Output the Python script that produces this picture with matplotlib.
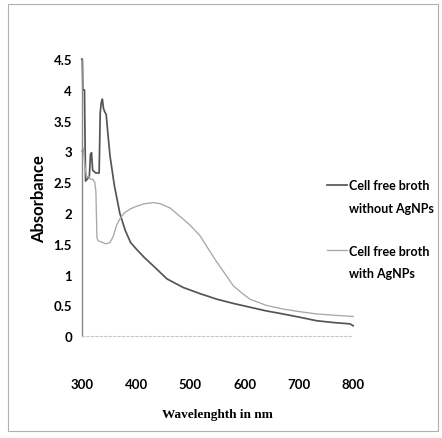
import matplotlib
matplotlib.use('Agg')
from matplotlib import pyplot as plt
from matplotlib.patches import Rectangle
from matplotlib.lines import Line2D

# UV-vis spectra
wl_without = [300, 301, 302, 305, 306, 307, 310, 314, 316, 318, 320, 322, 326, 330, 332, 334,
              336, 338, 340, 342, 345, 348, 352, 360, 370, 380, 390, 401, 415, 432, 457, 487,
              518, 549, 580, 610, 640, 671, 700, 733, 765, 794, 800]
abs_without = [4.5, 4.5, 4.0, 4.0, 3.2, 2.52, 2.55, 2.6, 2.95, 2.98, 2.7, 2.68, 2.65, 2.65, 2.65, 3.63,
               3.8, 3.85, 3.7, 3.65, 3.6, 3.3, 2.93, 2.45, 2.0, 1.72, 1.52, 1.41, 1.28, 1.14, 0.93, 0.79,
               0.69, 0.60, 0.53, 0.47, 0.41, 0.36, 0.31, 0.25, 0.22, 0.20, 0.17]

wl_with = [300, 303, 306, 309, 312, 316, 320, 324, 326, 328, 330, 336, 344, 352, 358, 364, 370,
           378, 390, 401, 415, 432, 445, 463, 487, 500, 518, 533, 549, 565, 579, 595, 610, 640,
           671, 700, 733, 765, 800]
abs_with = [3.0, 3.05, 2.75, 2.58, 2.6, 2.55, 2.55, 2.5, 2.35, 1.6, 1.55, 1.53, 1.5, 1.52, 1.62, 1.8, 1.9,
            2.0, 2.07, 2.11, 2.15, 2.17, 2.15, 2.08, 1.9, 1.8, 1.63, 1.42, 1.2, 1.0, 0.82, 0.7, 0.6, 0.5,
            0.44, 0.4, 0.36, 0.34, 0.32]

x_ticks = [300, 400, 500, 600, 700, 800]
y_ticks = [0, 0.5, 1, 1.5, 2, 2.5, 3, 3.5, 4, 4.5]
y_tick_labels = ['0', '0.5', '1', '1.5', '2', '2.5', '3', '3.5', '4', '4.5']

sans = ['Lato', 'DejaVu Sans']
serif = ['Liberation Serif', 'DejaVu Serif']

fig = plt.figure(figsize=(4.42, 4.39), dpi=100)
ax = fig.add_axes([0.185, 0.232, 0.614, 0.631])

l1, = ax.plot(wl_without, abs_without, color='#555555', lw=1.25, clip_on=False)
l2, = ax.plot(wl_with, abs_with, color='#a8a8a8', lw=0.95, clip_on=False)

ax.set_xlim(300, 800)
ax.set_ylim(0, 4.5)
ax.set_xticks(x_ticks)
ax.set_xticklabels([str(t) for t in x_ticks], family=sans, fontweight='bold', fontsize=9.5)
ax.set_yticks(y_ticks)
ax.set_yticklabels(y_tick_labels, family=sans, fontweight='bold', fontsize=9.5)
ax.tick_params(axis='x', length=0, pad=30)
ax.tick_params(axis='y', length=0, pad=7)

for s in ['top', 'right']:
    ax.spines[s].set_visible(False)
ax.spines['left'].set_color('#8a8a8a')
ax.spines['left'].set_linewidth(1.0)
ax.spines['bottom'].set_color('#c8c8c8')
ax.spines['bottom'].set_linestyle((0, (2, 2)))
ax.spines['bottom'].set_linewidth(0.8)

ax.set_ylabel('Absorbance', family=sans, fontweight='bold', fontsize=12, labelpad=5)
ax.set_xlabel('Wavelenghth in nm', family=serif, fontweight='bold', fontsize=9.5, labelpad=13)

# legend text wraps onto a second line, handle sits beside the first line
blank = Line2D([], [], color='none')
handles = [l1, blank, blank, l2, blank]
labels = ['Cell free broth', 'without AgNPs', ' ', 'Cell free broth', 'with AgNPs']
leg = ax.legend(handles, labels, loc='upper left', bbox_to_anchor=(0.885, 0.585), frameon=False,
                handlelength=1.6, handletextpad=0.2, labelspacing=0.85, borderaxespad=0,
                prop={'family': sans, 'weight': 'bold', 'size': 9})
leg.get_texts()[2].set_fontsize(2)

fig.add_artist(Rectangle((8 / 442, 1 - 432 / 439), 430 / 442, 427 / 439,
                         transform=fig.transFigure, fill=False, edgecolor='#b0b0b0', lw=0.8))

fig.savefig('out.png', dpi=100)
